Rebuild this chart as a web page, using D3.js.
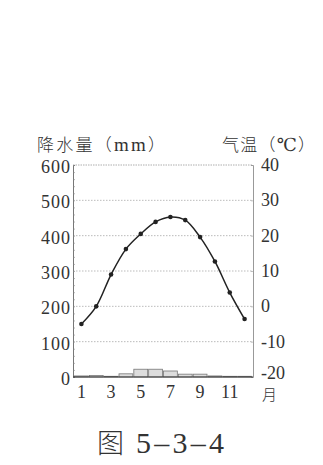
<!DOCTYPE html>
<html>
<head>
<meta charset="utf-8">
<script src="https://cdn.jsdelivr.net/npm/d3@7"></script>
<style>
  body { margin: 0; background: #fff; }
  svg { display: block; }
</style>
</head>
<body>
<div id="chart"></div>
<script>
// data
var months = [1, 2, 3, 4, 5, 6, 7, 8, 9, 10, 11, 12];
var temperature = [-5, 0, 9, 16.2, 20.5, 23.9, 25.3, 24.4, 19.6, 12.7, 3.9, -3.6];
var precipitation = [3, 4, 2, 9, 22, 22, 17, 8, 8, 3, 2, 2];
var precipTicks = [0, 100, 200, 300, 400, 500, 600];
var tempTicks = [-20, -10, 0, 10, 20, 30, 40];
var monthLabels = [1, 3, 5, 7, 9, 11];

var W = 323, H = 465;
var mLeft = 73, mRight = 253, mTop = 165, mBottom = 377;

var svg = d3.select("#chart").append("svg")
  .attr("width", W).attr("height", H);

var x = d3.scaleLinear().domain([0.5, 12.5]).range([mLeft + 1, mRight - 1]);
var yP = d3.scaleLinear().domain([0, 600]).range([mBottom, mTop]);
var yT = d3.scaleLinear().domain([-20, 40]).range([mBottom, mTop]);

var serif = "'Liberation Serif', 'DejaVu Serif', serif";
var cjk = "'Noto Sans CJK SC', sans-serif";
var ink = "#333";

// gridlines
svg.append("g")
  .selectAll("line")
  .data(precipTicks.filter(d => d > 0 && d < 600))
  .join("line")
  .attr("x1", mLeft).attr("x2", mRight)
  .attr("y1", d => yP(d)).attr("y2", d => yP(d))
  .attr("stroke", "#aaa")
  .attr("stroke-width", 0.8)
  .attr("stroke-dasharray", "1.5,1.5");

// top border
svg.append("line")
  .attr("x1", mLeft).attr("x2", mRight)
  .attr("y1", mTop).attr("y2", mTop)
  .attr("stroke", "#999").attr("stroke-width", 0.8)
  .attr("stroke-dasharray", "1.5,1");

// precipitation bars
var bw = x(2) - x(1);
svg.append("g")
  .selectAll("rect")
  .data(months)
  .join("rect")
  .attr("x", d => x(d) - bw / 2 + 0.5)
  .attr("width", bw - 1)
  .attr("y", (d, i) => yP(precipitation[i]))
  .attr("height", (d, i) => yP(0) - yP(precipitation[i]))
  .attr("fill", "#ddd")
  .attr("stroke", "#777")
  .attr("stroke-width", 0.8);

// left axis, minor ticks inside
svg.append("g")
  .attr("transform", "translate(" + mLeft + ",0)")
  .call(d3.axisRight(yP).tickValues(d3.range(0, 601, 20)).tickSize(2).tickFormat(""))
  .call(g => g.select(".domain").attr("stroke", "#777"))
  .call(g => g.selectAll(".tick line").attr("stroke", "#888").attr("stroke-width", 0.6));

svg.append("g")
  .selectAll("text")
  .data(precipTicks)
  .join("text")
  .attr("x", mLeft - 2)
  .attr("y", d => yP(d) + 8)
  .attr("text-anchor", "end")
  .attr("font-family", serif)
  .attr("font-size", 18)
  .attr("letter-spacing", 1)
  .attr("fill", ink)
  .text(d => d);

// right axis
svg.append("g")
  .attr("transform", "translate(" + mRight + ",0)")
  .call(d3.axisLeft(yT).tickValues(tempTicks).tickSize(2).tickFormat(""))
  .call(g => g.select(".domain").attr("stroke", "#999"))
  .call(g => g.selectAll(".tick line").attr("stroke", "#999").attr("stroke-width", 0.6));

svg.append("g")
  .selectAll("text")
  .data(tempTicks)
  .join("text")
  .attr("x", mRight + 8)
  .attr("y", d => yT(d) + (d === -20 ? 2 : 6))
  .attr("font-family", serif)
  .attr("font-size", 18)
  .attr("fill", ink)
  .text(d => d);

// bottom axis
svg.append("line")
  .attr("x1", mLeft).attr("x2", mRight)
  .attr("y1", mBottom).attr("y2", mBottom)
  .attr("stroke", "#333").attr("stroke-width", 1.2);

svg.append("g")
  .selectAll("text")
  .data(monthLabels)
  .join("text")
  .attr("x", d => x(d))
  .attr("y", mBottom + 21)
  .attr("text-anchor", "middle")
  .attr("font-family", serif)
  .attr("font-size", 18)
  .attr("fill", ink)
  .text(d => d);

svg.append("text")
  .attr("x", mRight + 9)
  .attr("y", mBottom + 23)
  .attr("font-family", cjk)
  .attr("font-size", 15)
  .attr("font-weight", 300)
  .attr("fill", ink)
  .text("月");

// temperature curve
var line = d3.line()
  .x((d, i) => x(months[i]))
  .y(d => yT(d))
  .curve(d3.curveCatmullRom);

svg.append("path")
  .datum(temperature)
  .attr("fill", "none")
  .attr("stroke", "#222")
  .attr("stroke-width", 1.5)
  .attr("d", line);

svg.append("g")
  .selectAll("circle")
  .data(temperature)
  .join("circle")
  .attr("cx", (d, i) => x(months[i]))
  .attr("cy", d => yT(d))
  .attr("r", 2.3)
  .attr("fill", "#222");

// axis titles
var t1 = svg.append("text")
  .attr("x", 37).attr("y", 151)
  .attr("font-family", cjk)
  .attr("font-size", 17)
  .attr("font-weight", 300)
  .attr("fill", ink)
  .attr("textLength", 128)
  .attr("lengthAdjust", "spacing");
t1.append("tspan").text("降水量（");
t1.append("tspan").attr("font-family", serif).attr("font-size", 19).text("mm");
t1.append("tspan").text("）");

var t2 = svg.append("text")
  .attr("x", 222).attr("y", 151)
  .attr("font-family", cjk)
  .attr("font-size", 17)
  .attr("font-weight", 300)
  .attr("fill", ink)
  .attr("textLength", 93)
  .attr("lengthAdjust", "spacing");
t2.append("tspan").text("气温（");
t2.append("tspan").attr("font-family", serif).attr("font-size", 18).text("℃");
t2.append("tspan").text("）");

// caption
var cap = svg.append("text")
  .attr("x", 97).attr("y", 453)
  .attr("fill", ink);
cap.append("tspan").attr("font-family", cjk).attr("font-size", 27).attr("font-weight", 300).text("图");
cap.append("tspan").attr("dx", 12).attr("font-family", serif).attr("font-size", 30)
  .attr("textLength", 88).attr("lengthAdjust", "spacing").text("5–3–4");
</script>
</body>
</html>
